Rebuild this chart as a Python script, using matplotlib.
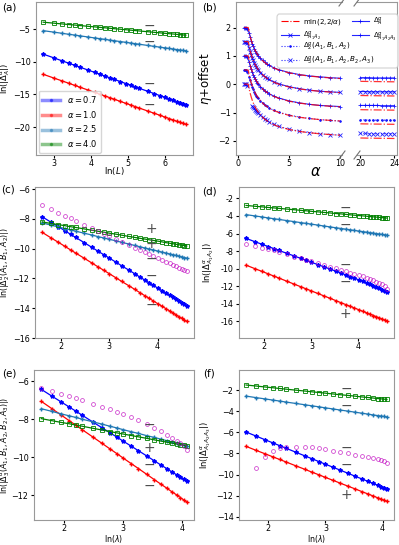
import numpy as np
import matplotlib
matplotlib.use('Agg')
import matplotlib.pyplot as plt
from matplotlib.lines import Line2D
from matplotlib.patches import FancyBboxPatch
from matplotlib.ticker import FuncFormatter

plt.rcParams['font.family'] = 'DejaVu Sans'
plt.rcParams['mathtext.fontset'] = 'dejavusans'
plt.rcParams['font.size'] = 6.2
plt.rcParams['xtick.labelsize'] = 5.8
plt.rcParams['ytick.labelsize'] = 5.8
plt.rcParams['axes.edgecolor'] = '0.6'
plt.rcParams['axes.linewidth'] = 0.8
plt.rcParams['xtick.major.size'] = 2.2
plt.rcParams['ytick.major.size'] = 2.5
plt.rcParams['xtick.major.pad'] = 0.6
plt.rcParams['ytick.major.pad'] = 1.5

MINUS = '\u2212'

# ---------------- (a) ----------------
L = [15, 20, 25, 30, 35, 40, 50, 60, 70, 80, 90, 100, 120, 140, 160, 180, 200,
     250, 300, 350, 400, 450, 500, 550, 600, 650, 700]
a_07 = [-8.80, -9.38, -9.84, -10.21, -10.52, -10.79, -11.24, -11.61, -11.93, -12.20,
        -12.44, -12.65, -13.02, -13.34, -13.61, -13.84, -14.06, -14.51, -14.88, -15.19,
        -15.46, -15.70, -15.92, -16.11, -16.29, -16.45, -16.60]
a_10 = [-11.90, -12.48, -12.92, -13.29, -13.60, -13.87, -14.31, -14.68, -14.99, -15.25,
        -15.49, -15.70, -16.07, -16.38, -16.64, -16.88, -17.09, -17.54, -17.90, -18.21,
        -18.48, -18.72, -18.93, -19.12, -19.29, -19.45, -19.60]
a_25 = [-5.20, -5.43, -5.61, -5.76, -5.88, -5.99, -6.17, -6.32, -6.44, -6.55, -6.65,
        -6.73, -6.88, -7.00, -7.11, -7.21, -7.29, -7.47, -7.62, -7.74, -7.85, -7.94,
        -8.03, -8.11, -8.18, -8.24, -8.30]
a_40 = [-3.90, -4.05, -4.17, -4.26, -4.34, -4.41, -4.53, -4.62, -4.70, -4.77, -4.83,
        -4.89, -4.98, -5.06, -5.13, -5.19, -5.25, -5.36, -5.46, -5.54, -5.61, -5.67,
        -5.72, -5.77, -5.82, -5.86, -5.90]
a_signs = [MINUS, MINUS, MINUS, MINUS]
a_sign_y = [-4.5, -6.9, -13.4, -16.6]

# ---------------- (b) ----------------
alpha_th = [0.6, 0.7, 1.0, 1.1, 1.2, 1.3, 1.4, 1.5, 1.7, 2.0, 2.3, 2.6, 3.0, 3.5,
            4.0, 5.0, 6.0, 7.0, 8.0, 9.0, 10.0]
eta_th = [2.0, 2.0, 2.0, 1.818, 1.667, 1.538, 1.429, 1.333, 1.176, 1.0, 0.870, 0.769,
          0.667, 0.571, 0.5, 0.4, 0.333, 0.286, 0.25, 0.222, 0.2]
alpha_th_r = [20, 21, 22, 23, 24]
eta_th_r = [0.100, 0.095, 0.091, 0.087, 0.083]

alpha_num = [0.6, 0.7, 0.8, 0.9, 1.1, 1.2, 1.3, 1.4, 1.5, 1.6, 1.7, 1.8, 1.9, 2.0,
             2.2, 2.4, 2.6, 2.8, 3.0, 3.5, 4.0, 5.0, 6.0, 7.0, 8.0, 9.0, 10.0]
eta_A = [2.0, 2.0, 2.0, 1.96, 1.80, 1.66, 1.54, 1.43, 1.34, 1.25, 1.18, 1.11, 1.05,
         1.0, 0.91, 0.84, 0.77, 0.72, 0.67, 0.58, 0.51, 0.41, 0.34, 0.29, 0.26, 0.23, 0.21]
eta_A12 = [2.0, 2.0, 2.0, 1.95, 1.79, 1.65, 1.53, 1.43, 1.34, 1.25, 1.18, 1.11, 1.05,
           1.0, 0.91, 0.84, 0.77, 0.72, 0.67, 0.58, 0.51, 0.41, 0.34, 0.29, 0.25, 0.23, 0.21]
eta_A123 = [2.0, 2.0, 2.0, 1.95, 1.78, 1.64, 1.52, 1.42, 1.33, 1.25, 1.18, 1.11, 1.05,
            1.0, 0.91, 0.84, 0.77, 0.72, 0.67, 0.58, 0.51, 0.41, 0.34, 0.29, 0.25, 0.23, 0.21]
eta_2 = [2.0, 2.0, 2.0, 1.94, 1.76, 1.63, 1.51, 1.41, 1.32, 1.24, 1.17, 1.10, 1.05,
         1.0, 0.91, 0.84, 0.77, 0.72, 0.67, 0.58, 0.51, 0.41, 0.34, 0.29, 0.25, 0.22, 0.20]
eta_3 = [2.0, 2.0, 2.0, 1.94, np.nan, np.nan, np.nan, 1.22, 1.19, 1.15, 1.10, 1.06,
         1.02, 0.98, 0.90, 0.83, 0.77, 0.72, 0.67, 0.58, 0.51, 0.41, 0.34, 0.29, 0.25, 0.22, 0.20]
alpha_num_r = [20, 20.5, 21, 21.5, 22, 22.5, 23, 23.5, 24]
eta_A_r = [0.23, 0.23, 0.23, 0.22, 0.22, 0.22, 0.22, 0.22, 0.22]
eta_A12_r = [0.24, 0.24, 0.23, 0.23, 0.23, 0.23, 0.23, 0.23, 0.23]
eta_A123_r = [0.25, 0.25, 0.25, 0.25, 0.25, 0.24, 0.24, 0.24, 0.24]
eta_2_r = [0.24, 0.24, 0.23, 0.23, 0.23, 0.23, 0.23, 0.23, 0.23]
eta_3_r = [0.26, 0.26, 0.25, 0.25, 0.25, 0.25, 0.25, 0.25, 0.25]
offsets = [0.0, -0.5, -1.0, -1.5, -2.0]

# ---------------- (c), (d) ----------------
lam_cd = [5, 6, 7, 8, 9, 10, 12, 14, 16, 18, 20, 23, 26, 30, 34, 38, 42, 46, 50, 55,
          60, 65, 70, 75, 80, 85, 90, 95, 100]
c_07 = [-7.85, -8.22, -8.52, -8.79, -9.03, -9.24, -9.60, -9.91, -10.18, -10.41, -10.62,
        -10.90, -11.15, -11.43, -11.68, -11.91, -12.11, -12.29, -12.46, -12.65, -12.82,
        -12.98, -13.13, -13.27, -13.40, -13.52, -13.63, -13.74, -13.84]
c_10 = [-8.90, -9.27, -9.57, -9.84, -10.08, -10.29, -10.65, -10.96, -11.23, -11.46,
        -11.67, -11.95, -12.20, -12.48, -12.73, -12.96, -13.16, -13.34, -13.51, -13.70,
        -13.87, -14.03, -14.18, -14.32, -14.45, -14.57, -14.68, -14.79, -14.89]
c_25 = [-8.27, -8.41, -8.54, -8.64, -8.73, -8.82, -8.96, -9.08, -9.19, -9.28, -9.36,
        -9.47, -9.57, -9.68, -9.78, -9.87, -9.95, -10.02, -10.08, -10.16, -10.23, -10.29,
        -10.35, -10.40, -10.45, -10.50, -10.55, -10.59, -10.63]
c_40 = [-8.20, -8.30, -8.38, -8.45, -8.52, -8.57, -8.67, -8.76, -8.83, -8.89, -8.95,
        -9.02, -9.09, -9.17, -9.24, -9.30, -9.35, -9.40, -9.44, -9.49, -9.54, -9.59,
        -9.63, -9.66, -9.70, -9.73, -9.76, -9.79, -9.82]
c_mag = [-7.08, -7.33, -7.58, -7.78, -7.95, -8.11, -8.38, -8.60, -8.80, -8.98, -9.13,
         -9.34, -9.52, -9.73, -9.92, -10.08, -10.23, -10.37, -10.49, -10.63, -10.76,
         -10.88, -10.99, -11.09, -11.18, -11.27, -11.36, -11.44, -11.51]
c_signs = ['+', '+', MINUS, MINUS, MINUS]
c_sign_y = [-8.7, -9.7, -10.7, -11.8, -13.8]

d_07 = [-6.55, -6.92, -7.22, -7.48, -7.71, -7.92, -8.27, -8.57, -8.83, -9.06, -9.27,
        -9.54, -9.78, -10.06, -10.31, -10.53, -10.73, -10.91, -11.08, -11.28, -11.46,
        -11.63, -11.79, -11.95, -12.10, -12.24, -12.38, -12.50, -12.62]
d_10 = [-9.60, -9.99, -10.31, -10.59, -10.84, -11.06, -11.45, -11.78, -12.06, -12.31,
        -12.53, -12.83, -13.09, -13.39, -13.66, -13.90, -14.11, -14.30, -14.48, -14.68,
        -14.87, -15.04, -15.20, -15.34, -15.48, -15.61, -15.73, -15.85, -15.96]
d_25 = [-3.85, -3.99, -4.11, -4.22, -4.31, -4.39, -4.53, -4.65, -4.76, -4.85, -4.93,
        -5.04, -5.14, -5.25, -5.35, -5.43, -5.51, -5.58, -5.65, -5.72, -5.79, -5.85,
        -5.91, -5.96, -6.01, -6.06, -6.10, -6.15, -6.19]
d_40 = [-2.80, -2.89, -2.96, -3.03, -3.08, -3.13, -3.22, -3.29, -3.36, -3.41, -3.47,
        -3.53, -3.59, -3.66, -3.72, -3.77, -3.82, -3.87, -3.91, -3.95, -3.99, -4.03,
        -4.07, -4.10, -4.13, -4.16, -4.19, -4.21, -4.24]
d_mag = [-7.19, -7.45, -7.62, -7.76, -7.92, -8.08, -8.38, -8.62, -8.82, -9.00, -9.13,
         -9.36, -9.55, -9.77, -9.96, -10.14, -10.30, -10.45, -10.58, -10.74, -10.89,
         -11.04, -11.18, -11.32, -11.47, -11.62, -11.80, -12.02, -12.35]
d_signs = [MINUS, MINUS, MINUS, MINUS, '+']
d_sign_y = [-3.1, -5.0, -9.6, -11.5, -15.2]

# ---------------- (e), (f) ----------------
lam_ef = [5, 6, 7, 8, 9, 10, 12, 14, 16, 18, 20, 23, 26, 30, 34, 38, 42, 46, 50, 53, 56, 59]
e_07 = [-6.42, -6.78, -7.08, -7.34, -7.57, -7.78, -8.14, -8.44, -8.70, -8.93, -9.14,
        -9.41, -9.65, -9.93, -10.18, -10.40, -10.59, -10.77, -10.93, -11.05, -11.16, -11.26]
e_10 = [-7.05, -7.44, -7.77, -8.06, -8.31, -8.54, -8.93, -9.26, -9.55, -9.80, -10.03,
        -10.33, -10.59, -10.90, -11.17, -11.41, -11.62, -11.82, -11.99, -12.12, -12.24, -12.35]
e_25 = [-7.44, -7.58, -7.71, -7.81, -7.90, -7.99, -8.13, -8.25, -8.36, -8.45, -8.54,
        -8.65, -8.74, -8.86, -8.95, -9.04, -9.12, -9.19, -9.26, -9.31, -9.35, -9.40]
e_40 = [-7.96, -8.07, -8.16, -8.23, -8.30, -8.36, -8.47, -8.56, -8.64, -8.71, -8.77,
        -8.85, -8.92, -9.00, -9.08, -9.14, -9.20, -9.25, -9.30, -9.33, -9.36, -9.39]
e_mag = [-6.35, -6.52, -6.66, -6.78, -6.89, -6.99, -7.17, -7.33, -7.47, -7.60, -7.72,
         -7.89, -8.05, -8.26, -8.45, -8.63, -8.81, -8.98, -9.14, -9.27, -9.42, -9.60]
e_signs = [MINUS, '+', MINUS, MINUS]
e_sign_y = [-8.3, -9.5, -10.4, -11.5]

f_07 = [-5.97, -6.37, -6.71, -7.00, -7.26, -7.49, -7.89, -8.23, -8.52, -8.78, -9.01,
        -9.31, -9.58, -9.89, -10.17, -10.41, -10.63, -10.83, -11.01, -11.14, -11.26, -11.38]
f_10 = [-7.33, -7.72, -8.04, -8.32, -8.57, -8.79, -9.18, -9.50, -9.79, -10.03, -10.26,
        -10.55, -10.81, -11.11, -11.37, -11.61, -11.82, -12.01, -12.19, -12.31, -12.43, -12.54]
f_25 = [-2.57, -2.72, -2.84, -2.95, -3.04, -3.13, -3.27, -3.39, -3.50, -3.59, -3.68,
        -3.79, -3.89, -4.00, -4.10, -4.19, -4.27, -4.35, -4.41, -4.46, -4.50, -4.55]
f_40 = [-1.52, -1.62, -1.71, -1.78, -1.85, -1.91, -2.01, -2.09, -2.17, -2.23, -2.29,
        -2.37, -2.44, -2.51, -2.58, -2.65, -2.70, -2.75, -2.80, -2.83, -2.86, -2.89]
lam_f_mag = [6, 7, 8, 9, 10, 12, 14, 16, 18, 20, 23, 26, 30, 34, 38, 42, 46, 50, 53, 56, 59]
f_mag = [-9.40, -8.29, -7.78, -7.50, -7.42, -7.38, -7.38, -7.42, -7.50, -7.60, -7.73,
         -7.85, -8.00, -8.12, -8.23, -8.34, -8.45, -8.55, -8.63, -8.75, -8.92]
f_signs = [MINUS, MINUS, MINUS, MINUS, '+']
f_sign_y = [-1.9, -3.5, -7.5, -9.1, -11.9]

# ---------------- figure ----------------
W, H = 399, 545
fig = plt.figure(figsize=(W / 100, H / 100), dpi=100)


def px_axes(l, t, r, b):
    return fig.add_axes([l / W, 1 - b / H, (r - l) / W, (b - t) / H])


def ylabel_at(ax, text, xpx, **kw):
    # xpx: right edge of the rotated label, in figure pixels
    ax.set_ylabel(text, **kw)
    bb = ax.get_position()
    ax.yaxis.set_label_coords((xpx / W - bb.x0) / bb.width, 0.5)


def xlabel_at(ax, text, ypx, **kw):
    # ypx: top edge of the label, in figure pixels
    ax.set_xlabel(text, **kw)
    bb = ax.get_position()
    ax.xaxis.set_label_coords(0.5, ((1 - ypx / H) - bb.y0) / bb.height)


styles = {
    '07': dict(color='blue', marker='*', ms=3, lw=0.9),
    '10': dict(color='red', marker='+', ms=3, lw=0.9),
    '25': dict(color='tab:blue', marker='+', ms=3, lw=0.9),
    '40': dict(color='green', marker='s', ms=2.5, mfc='none', mew=0.6, lw=0.9),
}


def signs(ax, x, ys, ss):
    for y, s in zip(ys, ss):
        ax.text(x, y, s, ha='center', va='center', fontsize=10, color='0.3')


# (a)
ax = px_axes(36, 2, 193, 155)
lnL = np.log(L)
ax.plot(lnL, a_07, **styles['07'])
ax.plot(lnL, a_10, **styles['10'])
ax.plot(lnL, a_25, **styles['25'])
ax.plot(lnL, a_40, **styles['40'])
signs(ax, 5.58, a_sign_y, a_signs)
ax.set_ylim(-24.3, -0.8)
ax.set_xticks([3, 4, 5, 6])
ax.set_yticks([-5, -10, -15, -20])
xlabel_at(ax, r'ln($L$)', 165)
ylabel_at(ax, r'ln($|\Delta_A^\alpha|$)', 12.5, fontsize=6)
leg_h = []
for k in ['07', '10', '25', '40']:
    leg_h.append(Line2D([], [], color=styles[k]['color'], lw=2.5, alpha=0.45,
                        marker='.', ms=3))
ax.legend(leg_h, [r'$\alpha = 0.7$', r'$\alpha = 1.0$', r'$\alpha = 2.5$', r'$\alpha = 4.0$'],
          loc='lower left', fontsize=6, borderaxespad=0.3, handlelength=2.2,
          labelspacing=0.45, edgecolor='0.8')

# (b)
axb1 = px_axes(236, 2, 342, 155)
axb2 = px_axes(357, 2, 397, 155)
series_b = [(eta_A, eta_A_r, '-', '+'), (eta_A12, eta_A12_r, '-', 'x'),
            (eta_A123, eta_A123_r, '-', '+'), (eta_2, eta_2_r, ':', '.'),
            (eta_3, eta_3_r, ':', 'x')]
hb = []
for off, (e_l, e_r, ls, mk) in zip(offsets, series_b):
    h, = axb1.plot(alpha_num, np.array(e_l) + off, color='blue', ls=ls, lw=0.8,
                   marker=mk, ms=2.5, mew=0.6, alpha=0.85)
    axb2.plot(alpha_num_r, np.array(e_r) + off, color='blue', ls=ls, lw=0.8,
              marker=mk, ms=2.5, mew=0.6, alpha=0.85)
    hb.append(h)
    for axx, al, et in ((axb1, alpha_th, eta_th), (axb2, alpha_th_r, eta_th_r)):
        axx.plot(al, np.array(et) + off, color='red', ls='-.', lw=0.9, alpha=0.8)
h_th = Line2D([], [], color='red', ls='-.', lw=0.8)
axb1.set_xlim(-0.2, 10.2)
axb2.set_xlim(19.6, 24.3)
axb1.set_ylim(-2.5, 2.9)
axb2.set_ylim(-2.5, 2.9)
axb1.set_xticks([0, 5, 10])
axb2.set_xticks([20, 24])
axb1.set_yticks([-2, -1, 0, 1, 2])
axb1.spines['right'].set_visible(False)
axb2.spines['left'].set_visible(False)
axb2.tick_params(left=False, labelleft=False)
ylabel_at(axb1, r'$\eta$+offset', 214, fontsize=8.5)
fig.text(316 / W, 1 - 172 / H, r'$\alpha$', fontsize=10.5, ha='center', va='center')
for xp in (342, 357):
    for yp in (2, 155):
        fig.add_artist(Line2D([(xp - 3) / W, (xp + 3) / W], [1 - (yp + 4) / H, 1 - (yp - 4) / H],
                              color='0.45', lw=0.8))
lab_th = r'min(2,2/$\alpha$)'
lab_A = r'$\Delta_A^\alpha$'
lab_A12 = r'$\Delta^\alpha_{A_1A_2}$'
lab_A123 = r'$\Delta^\alpha_{A_1A_2A_3}$'
lab_2 = r'$\Delta_2^\alpha(A_1,B_1,A_2)$'
lab_3 = r'$\Delta_3^\alpha(A_1,B_1,A_2,B_2,A_3)$'
# common frame for the two legend blocks
fig.add_artist(FancyBboxPatch((277 / W, 1 - 68 / H), 121 / W, 54 / H,
                              boxstyle='round,pad=0,rounding_size=0.006',
                              transform=fig.transFigure, facecolor='white',
                              edgecolor='0.8', lw=0.8, alpha=0.9, zorder=4))
lkw = dict(loc='upper left', fontsize=5.1, borderaxespad=0, handlelength=2.5,
           handletextpad=0.6, frameon=False, labelspacing=0.3)
fig.legend([h_th, hb[1], hb[0], hb[2]], [lab_th, lab_A12, lab_A, lab_A123], ncol=2,
           columnspacing=1.4, bbox_to_anchor=(278 / W, 1 - 13 / H), **lkw)
fig.legend([hb[3], hb[4]], [lab_2, lab_3], bbox_to_anchor=(278 / W, 1 - 38 / H), **lkw)


def lam_panel(box, lam, ys, lam_m, ymag, sx, sy, ss, ylim, yticks, ylabel, ylab_x,
              xlabel=None, ylab_size=6):
    ax = px_axes(*box)
    x = np.log(lam)
    ax.plot(x, ys[0], **styles['07'])
    ax.plot(x, ys[1], **styles['10'])
    ax.plot(x, ys[2], **styles['25'])
    ax.plot(x, ys[3], **styles['40'])
    ax.plot(np.log(lam_m), ymag, ls='none', marker='o', ms=2.8, mfc='none', mew=0.6,
            color='m', alpha=0.7)
    signs(ax, sx, sy, ss)
    ax.set_ylim(*ylim)
    ax.set_yticks(yticks)
    ax.set_xticks([2, 3, 4])
    ylabel_at(ax, ylabel, ylab_x, fontsize=ylab_size)
    if xlabel:
        xlabel_at(ax, xlabel, 533.4, fontsize=5.6)
    return ax


lam_panel((35, 187, 194, 338), lam_cd, [c_07, c_10, c_25, c_40], lam_cd, c_mag,
          3.87, c_sign_y, c_signs, (-16, -5.85), [-6, -8, -10, -12, -14, -16],
          r'ln($|\Delta_2^\alpha(A_1,B_1,A_2)|$)', 12.5, ylab_size=5.7)
axd = lam_panel((239, 187, 394, 338), lam_cd, [d_07, d_10, d_25, d_40], lam_cd, d_mag,
                3.72, d_sign_y, d_signs, (-17.9, -0.7), list(range(-16, -1, 2)),
                r'ln($|\Delta^\alpha_{A_1A_2}|$)', 216)
axd.yaxis.set_major_formatter(FuncFormatter(lambda v, p: '%d' % v))
lam_panel((34, 370, 194, 520), lam_ef, [e_07, e_10, e_25, e_40], lam_ef, e_mag,
          3.45, e_sign_y, e_signs, (-13.3, -5.4), [-6, -8, -10, -12],
          r'ln($|\Delta_3^\alpha(A_1,B_1,A_2,B_2,A_3)|$)', 12.5, r'ln($\lambda$)',
          ylab_size=5.7)
lam_panel((239, 370, 394, 520), lam_ef, [f_07, f_10, f_25, f_40], lam_f_mag, f_mag,
          3.37, f_sign_y, f_signs, (-14.3, -0.1), list(range(-14, -1, 2)),
          r'ln($|\Delta^\alpha_{A_1A_2A_3}|$)', 213, r'ln($\lambda$)')

for s, (xp, yp) in zip('abcdef', [(9, 8), (209, 8), (8, 189), (209, 191), (9, 373), (209, 373)]):
    fig.text(xp / W, 1 - yp / H, '(%s)' % s, fontsize=7.5, ha='center', va='center')

fig.savefig('out.png', dpi=100)
